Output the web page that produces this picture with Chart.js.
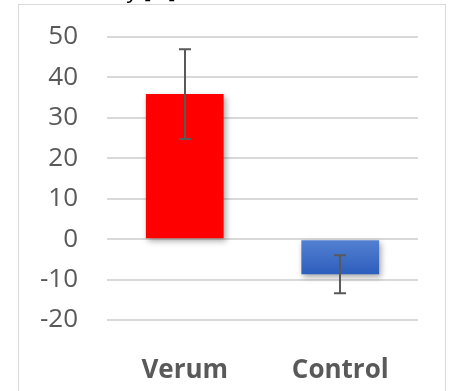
<!DOCTYPE html>
<html lang="en">
<head>
    <meta charset="UTF-8">
    <script src="https://cdn.jsdelivr.net/npm/chart.js@4/dist/chart.umd.min.js"></script>
    <title>Verum vs Control</title>
    <style>
        html, body { margin: 0; padding: 0; background: #fff; }
        #wrap { width: 450px; height: 391px; }
    </style>
</head>
<body>
    <div id="wrap"><canvas id="myChart" width="450" height="391"></canvas></div>

<script>
    // data
    const categorias = ['Verum', 'Control'];
    const valores = [35.9, -8.7];
    const erros = [11.1, 4.7];
    const yTicks = [-20, -10, 0, 10, 20, 30, 40, 50];
    const titulo = 'Activity [%]';

    const cinza = '#595959';
    const fonte = "'Open Sans', 'Noto Sans', sans-serif";

    function corBarra(ctx) {
        if (ctx.dataIndex == 0) return '#ff0000';
        const area = ctx.chart.chartArea;
        if (!area) return '#3a6cc8';
        const y = ctx.chart.scales.y;
        const g = ctx.chart.ctx.createLinearGradient(0, y.getPixelForValue(0), 0, y.getPixelForValue(valores[1]));
        g.addColorStop(0, '#5481d2');
        g.addColorStop(1, '#2d5ebd');
        return g;
    }

    // frame, cut-off title, shadow and error bars
    const extras = {
        id: 'extras',
        beforeDraw(chart) {
            const c = chart.ctx;
            c.save();
            c.strokeStyle = '#d9d9d9';
            c.lineWidth = 1;
            c.strokeRect(18.5, 4.5, 427, 400);
            c.fillStyle = '#000';
            c.font = '22px ' + fonte;
            c.textAlign = 'right';
            c.textBaseline = 'alphabetic';
            c.fillText(titulo, 176, -2);
            c.restore();
        },
        beforeDatasetDraw(chart) {
            const c = chart.ctx;
            c.save();
            c.shadowColor = 'rgba(0,0,0,0.35)';
            c.shadowBlur = 6;
            c.shadowOffsetX = 2;
            c.shadowOffsetY = 3;
        },
        afterDatasetDraw(chart) {
            chart.ctx.restore();
        },
        afterDatasetsDraw(chart) {
            const c = chart.ctx;
            const y = chart.scales.y;
            const meta = chart.getDatasetMeta(0);
            c.save();
            c.strokeStyle = cinza;
            c.lineWidth = 2;
            for (var i = 0; i < valores.length; i++) {
                const x = Math.round(meta.data[i].x);
                const top = y.getPixelForValue(valores[i] + erros[i]);
                const bot = y.getPixelForValue(valores[i] - erros[i]);
                c.beginPath();
                c.moveTo(x, top); c.lineTo(x, bot);
                c.moveTo(x - 6, top); c.lineTo(x + 6, top);
                c.moveTo(x - 6, bot); c.lineTo(x + 6, bot);
                c.stroke();
            }
            c.restore();
        }
    };

    const data = {
        labels: categorias,
        datasets: [{
            data: valores,
            backgroundColor: corBarra,
            borderWidth: 0,
            categoryPercentage: 1,
            barPercentage: 0.5
        }]
    };

    const config = {
        type: 'bar',
        data: data,
        options: {
            responsive: false,
            animation: false,
            layout: { padding: { left: 18, right: 32, top: 37, bottom: 0 } },
            plugins: { legend: { display: false }, tooltip: { enabled: false } },
            scales: {
                x: {
                    grid: { display: false },
                    border: { display: false },
                    ticks: { color: cinza, font: { family: fonte, size: 26, weight: 'bold' }, padding: 27 },
                    afterFit: s => { s.height = 71; s.paddingLeft = 0; s.paddingRight = 0; }
                },
                y: {
                    min: -20,
                    max: 50,
                    afterBuildTicks: s => { s.ticks = yTicks.map(v => ({ value: v })); },
                    grid: { color: '#d9d9d9', lineWidth: 2, drawTicks: false },
                    border: { display: false },
                    ticks: { color: cinza, font: { family: fonte, size: 26 }, padding: 29 },
                    afterFit: s => { s.width = 89; s.paddingTop = 0; s.paddingBottom = 0; }
                }
            }
        },
        plugins: [extras]
    };

    const myChart = new Chart(document.getElementById('myChart'), config);
</script>
</body>
</html>
